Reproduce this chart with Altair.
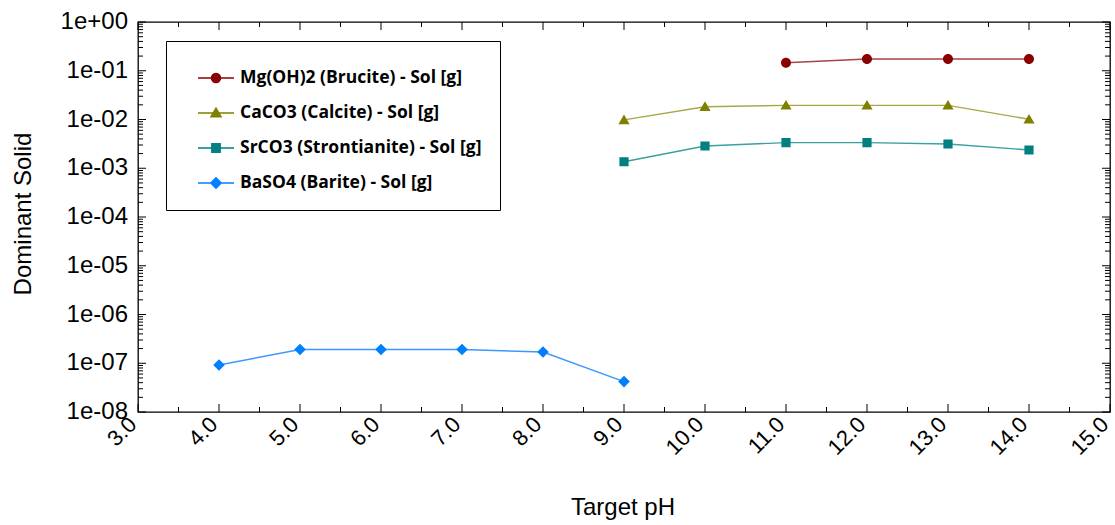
import altair as alt
import pandas as pd

# Series names (legend order)
SERIES = [
    "Mg(OH)2 (Brucite) - Sol [g]",
    "CaCO3 (Calcite) - Sol [g]",
    "SrCO3 (Strontianite) - Sol [g]",
    "BaSO4 (Barite) - Sol [g]",
]

# Dominant solid amount vs target pH
brucite_ph = [11.0, 12.0, 13.0, 14.0]
brucite_sol = [0.146, 0.174, 0.174, 0.174]

calcite_ph = [9.0, 10.0, 11.0, 12.0, 13.0, 14.0]
calcite_sol = [0.0098, 0.0183, 0.0195, 0.0195, 0.0195, 0.0101]

strontianite_ph = [9.0, 10.0, 11.0, 12.0, 13.0, 14.0]
strontianite_sol = [0.00136, 0.00286, 0.00335, 0.00335, 0.00314, 0.00237]

barite_ph = [4.0, 5.0, 6.0, 7.0, 8.0, 9.0]
barite_sol = [9.2e-8, 1.91e-7, 1.91e-7, 1.91e-7, 1.70e-7, 4.2e-8]

# Axis ticks and their labels
X_MAJOR = [3.0, 4.0, 5.0, 6.0, 7.0, 8.0, 9.0, 10.0, 11.0, 12.0, 13.0, 14.0, 15.0]
X_LABELS = ["3.0", "4.0", "5.0", "6.0", "7.0", "8.0", "9.0", "10.0", "11.0",
            "12.0", "13.0", "14.0", "15.0"]
X_MINOR = [3.5, 4.5, 5.5, 6.5, 7.5, 8.5, 9.5, 10.5, 11.5, 12.5, 13.5, 14.5]
Y_MAJOR = [1e-8, 1e-7, 1e-6, 1e-5, 1e-4, 1e-3, 1e-2, 1e-1, 1.0]
Y_LABELS = ["1e-08", "1e-07", "1e-06", "1e-05", "1e-04", "1e-03", "1e-02",
            "1e-01", "1e+00"]
MINOR_MULT = [2, 3, 4, 5, 6, 7, 8, 9]
Y_MINOR = [m * d for d in Y_MAJOR[:-1] for m in MINOR_MULT]

X_TITLE = "Target pH"
Y_TITLE = "Dominant Solid"

MARKER_COLORS = ["#8B0000", "#808000", "#008080", "#0080FF"]
LINE_COLORS = ["#A84444", "#A8A848", "#3AA0A0", "#3D97FF"]

# Marker shapes with a short horizontal stroke; the stroke only shows in the legend
SHAPES = [
    "M-1,0H1M0.25,0A0.25,0.25 0 1,1 -0.25,0A0.25,0.25 0 1,1 0.25,0Z",
    "M-1,0H1M0,-0.27L0.28,0.21L-0.28,0.21Z",
    "M-1,0H1M-0.23,-0.23H0.23V0.23H-0.23Z",
    "M-1,0H1M0,-0.29L0.29,0L0,0.29L-0.29,0Z",
]

W, H = 972, 390
FONT = "Liberation Sans"

frames = []
for name, lc, xs, ys in [
    (SERIES[0], LINE_COLORS[0], brucite_ph, brucite_sol),
    (SERIES[1], LINE_COLORS[1], calcite_ph, calcite_sol),
    (SERIES[2], LINE_COLORS[2], strontianite_ph, strontianite_sol),
    (SERIES[3], LINE_COLORS[3], barite_ph, barite_sol),
]:
    frames.append(pd.DataFrame({"series": name, "line_color": lc, "ph": xs, "sol": ys}))
df = pd.concat(frames, ignore_index=True)

X_SCALE = alt.Scale(domain=[3, 15], nice=False, zero=False)
Y_SCALE = alt.Scale(type="log", domain=[1e-8, 1], nice=False)


def xq():
    return alt.X("ph:Q", scale=X_SCALE, axis=None)


def yq():
    return alt.Y("sol:Q", scale=Y_SCALE, axis=None)


def tick_path(direction, length):
    """Thin filled bar, one pixel wide, running from the anchor in one direction."""
    h = 0.5 / length
    if direction == "up":
        return f"M{-h},0H{h}V-1H{-h}Z"
    if direction == "down":
        return f"M{-h},0H{h}V1H{-h}Z"
    if direction == "right":
        return f"M0,{-h}H1V{h}H0Z"
    return f"M0,{-h}H-1V{h}H0Z"


def tick_marks(frame, direction, length, **pos):
    return alt.Chart(frame).mark_point(filled=True, strokeWidth=0, opacity=1).encode(
        shape=alt.value(tick_path(direction, length)),
        size=alt.value(4 * length * length),
        fill=alt.value("black"),
        **pos,
    )


# Inward-pointing ticks on all four sides of the frame
def x_ticks(values, length):
    d = pd.DataFrame({"ph": values})
    return [
        tick_marks(d, "up", length, x=xq(), y=alt.value(H)),
        tick_marks(d, "down", length, x=xq(), y=alt.value(0)),
    ]


def y_ticks(values, length):
    d = pd.DataFrame({"sol": values})
    return [
        tick_marks(d, "right", length, y=yq(), x=alt.value(0)),
        tick_marks(d, "left", length, y=yq(), x=alt.value(W)),
    ]


# Tick labels, placed through the same scales
x_labels = alt.Chart(pd.DataFrame({"ph": X_MAJOR, "label": X_LABELS})).mark_text(
    font=FONT, fontSize=22, color="black", angle=315, align="right",
    baseline="middle", dx=-3.5, dy=-3.5,
).encode(x=xq(), y=alt.value(H + 9), text="label:N")

y_labels = alt.Chart(pd.DataFrame({"sol": Y_MAJOR, "label": Y_LABELS})).mark_text(
    font=FONT, fontSize=24, color="black", align="right", baseline="middle",
).encode(y=yq(), x=alt.value(-10), text="label:N")

x_title = alt.Chart(pd.DataFrame({"t": [X_TITLE]})).mark_text(
    font=FONT, fontSize=24, color="black", align="center", baseline="alphabetic",
).encode(x=alt.value(W / 2 - 1), y=alt.value(H + 103), text="t:N")

y_title = alt.Chart(pd.DataFrame({"t": [Y_TITLE]})).mark_text(
    font=FONT, fontSize=24, color="black", align="center", baseline="middle", angle=270,
).encode(x=alt.value(-114), y=alt.value(192), text="t:N")

legend = alt.Legend(
    title=None,
    orient="none",
    legendX=28,
    legendY=19,
    strokeColor="black",
    fillColor="white",
    padding=18,
    symbolSize=1296,
    symbolOffset=13,
    symbolStrokeWidth=1.5,
    symbolOpacity=1,
    labelFont="Open Sans",
    labelFontWeight="bold",
    labelFontSize=17.5,
    labelColor="black",
    labelOffset=5,
    labelLimit=400,
    rowPadding=7,
)

lines = alt.Chart(df).mark_line(strokeWidth=1.4).encode(
    x=xq(),
    y=yq(),
    color=alt.Color("line_color:N", scale=None),
    detail="series:N",
    order="ph:Q",
)

points = alt.Chart(df).mark_point(filled=True, opacity=1, strokeWidth=0).encode(
    x=xq(),
    y=yq(),
    fill=alt.Fill("series:N", scale=alt.Scale(domain=SERIES, range=MARKER_COLORS), legend=legend),
    stroke=alt.Stroke("series:N", scale=alt.Scale(domain=SERIES, range=MARKER_COLORS), legend=legend),
    shape=alt.Shape("series:N", scale=alt.Scale(domain=SERIES, range=SHAPES), legend=legend),
    size=alt.value(1600),
)

layers = [lines, points]
layers += x_ticks(X_MAJOR, 8) + x_ticks(X_MINOR, 5) + y_ticks(Y_MAJOR, 8) + y_ticks(Y_MINOR, 5)
layers += [x_labels, y_labels, x_title, y_title]

chart = alt.layer(*layers).properties(
    width=W,
    height=H,
    padding={"left": 138, "top": 22, "right": 5, "bottom": 113},
    autosize=alt.AutoSizeParams(type="none"),
    background="white",
).configure_view(stroke="black", strokeWidth=1.3)

chart.save("out.html", embed_options={"renderer": "svg", "actions": False})
